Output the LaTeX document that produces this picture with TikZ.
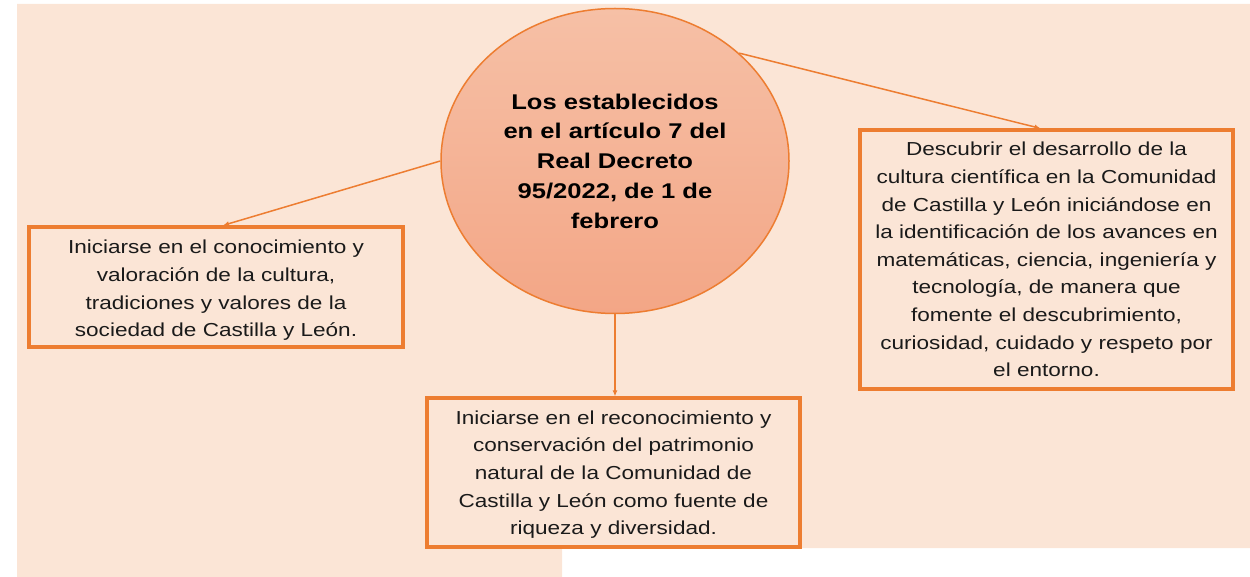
\documentclass[tikz,border=0pt]{standalone}
\usepackage{fontspec}
\setmainfont[FakeStretch=1.2]{Liberation Sans}
\usetikzlibrary{shapes.geometric,arrows.meta,calc}
\definecolor{bgpeach}{HTML}{FBE5D6}
\definecolor{orangeline}{HTML}{ED7D31}
\definecolor{elltop}{HTML}{F6C0A6}
\definecolor{ellbot}{HTML}{F3A686}
\definecolor{txt}{HTML}{1A1A1A}
\tikzset{
  textbox/.style={draw=orangeline, line width=3.2pt, fill=bgpeach, inner sep=0pt,
    align=center, text=txt, font=\fontsize{18.8}{27.6}\selectfont},
  mainell/.style={ellipse, draw=orangeline, line width=1.5pt, top color=elltop, bottom color=ellbot,
    inner sep=0pt, align=center, text=black, font=\fontsize{21.3}{29.75}\selectfont\bfseries},
  conn/.style={draw=orangeline, line width=1.5pt, -{Latex[length=6pt,width=5pt]}}
}
\begin{document}
\begin{tikzpicture}[x=1pt,y=-1pt]
\useasboundingbox (0,0) rectangle (1250,577);
\fill[bgpeach] (17,4) -- (1250,4) -- (1250,548) -- (562,548) -- (562,577) -- (17,577) -- cycle;
\node[mainell, minimum width=348pt, minimum height=305pt] (ell) at (615,161)
  {Los establecidos\\en el artículo 7 del\\Real Decreto\\95/2022, de 1 de\\febrero};
\node[textbox, minimum width=374pt, minimum height=120pt] (lbox) at (216,287)
  {\rule{0pt}{20.7pt}Iniciarse en el conocimiento y\\valoración de la cultura,\\tradiciones y valores de la\\sociedad de Castilla y León.};
\node[textbox, minimum width=373pt, minimum height=149pt] (bbox) at (613.5,472.5)
  {\rule{0pt}{17.7pt}Iniciarse en el reconocimiento y\\conservación del patrimonio\\natural de la Comunidad de\\Castilla y León como fuente de\\riqueza y diversidad.};
\node[textbox, minimum width=373pt, minimum height=259pt] (rbox) at (1046.5,259.5)
  {Descubrir el desarrollo de la\\cultura científica en la Comunidad\\de Castilla y León iniciándose en\\la identificación de los avances en\\matemáticas, ciencia, ingeniería y\\tecnología, de manera que\\fomente el descubrimiento,\\curiosidad, cuidado y respeto por\\el entorno.};
\draw[conn] (ell.180) -- ($(lbox.north)+(7,0)$);
\draw[conn] (ell.south) -- (ell.south |- bbox.north);
\draw[conn] (ell.41) -- ($(rbox.north)+(-6,0)$);
\end{tikzpicture}
\end{document}
